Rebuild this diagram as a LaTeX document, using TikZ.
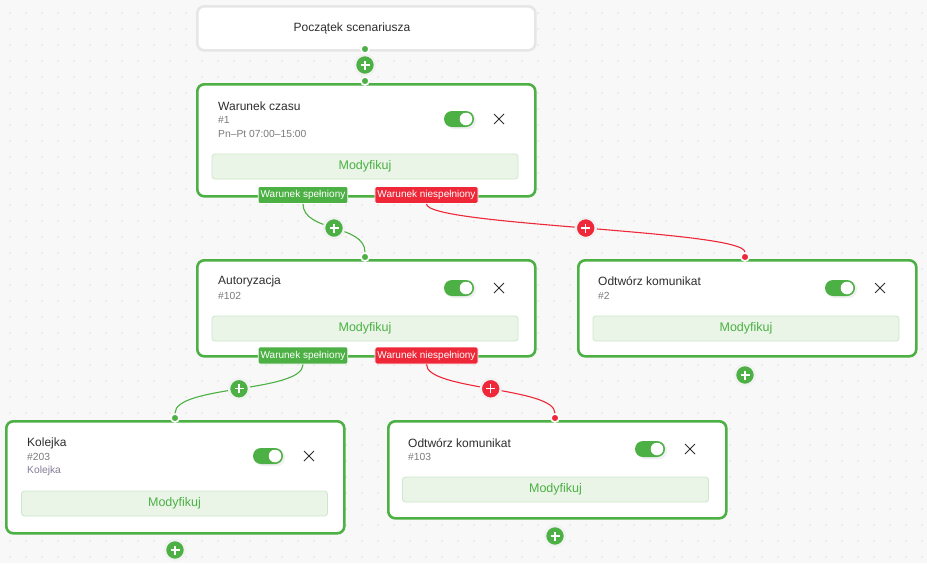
\documentclass[tikz,border=0pt]{standalone}
\usepackage{fontspec}
\setmainfont{Liberation Sans}
\usetikzlibrary{calc}
\definecolor{gr}{HTML}{4CB044}
\definecolor{rd}{HTML}{EE2838}
\definecolor{bgc}{HTML}{F8F8F8}
\definecolor{dotc}{HTML}{C4C4C4}
\definecolor{txt}{HTML}{2E2E2E}
\definecolor{sub}{HTML}{7A7A7A}
\definecolor{subp}{HTML}{857C98}
\definecolor{modf}{HTML}{EAF5E8}
\definecolor{modb}{HTML}{CDE7CA}
\definecolor{ring}{HTML}{E6E6E6}
\definecolor{pring}{HTML}{F2F2F2}
\tikzset{
  card/.style={draw=gr, line width=2.6pt, fill=white, rounded corners=7pt, inner sep=0pt, minimum width=338pt, anchor=north west},
  startbox/.style={draw=ring, line width=2.6pt, fill=white, rounded corners=7pt, inner sep=0pt, minimum width=338pt, minimum height=44pt, anchor=north west},
  title/.style={anchor=west, inner sep=0pt, text=txt, font=\fontsize{12}{14}\selectfont},
  subt/.style={anchor=west, inner sep=0pt, text=sub, font=\fontsize{10.3}{12}\selectfont},
  modbtn/.style={draw=modb, line width=0.8pt, fill=modf, rounded corners=3pt, minimum width=306pt, minimum height=25pt, inner sep=0pt, text=gr, font=\fontsize{12.5}{14}\selectfont},
  oklabel/.style={fill=gr, draw=white, line width=0.8pt, rounded corners=1.5pt, text=white, inner xsep=2.5pt, inner ysep=0pt, minimum height=17pt, font=\fontsize{10}{12}\selectfont},
  nolabel/.style={oklabel, fill=rd},
  plusbtn/.style={circle, fill=#1, draw=pring, line width=2.4pt, minimum size=20pt, inner sep=0pt,
    path picture={\draw[white, line width=1.3pt] ([xshift=-4.5pt]path picture bounding box.center) -- ([xshift=4.5pt]path picture bounding box.center);
                  \draw[white, line width=1.3pt] ([yshift=-4.5pt]path picture bounding box.center) -- ([yshift=4.5pt]path picture bounding box.center);}},
  plusbtn/.default=gr,
  port/.style={circle, fill=#1, draw=white, line width=1.6pt, minimum size=8pt, inner sep=0pt},
  port/.default=gr,
  conn/.style={line width=1.1pt}
}
\newcommand{\toggle}[2]{%
  \fill[black, opacity=0.06, rounded corners=8pt] (#1-13,#2-7) rectangle (#1+17,#2+10);
  \fill[gr, rounded corners=8pt] (#1-15,#2-8) rectangle (#1+15,#2+8);
  \fill[white] (#1+7,#2) circle (6.3pt);}
\newcommand{\closex}[2]{%
  \draw[txt, line width=1pt] (#1-5,#2-5) -- (#1+5,#2+5) (#1-5,#2+5) -- (#1+5,#2-5);}
\begin{document}
\begin{tikzpicture}[x=1pt,y=-1pt]
\useasboundingbox (0,0) rectangle (927,563);
\fill[bgc] (0,0) rectangle (927,563);
\foreach \i in {0,...,57} {\foreach \j in {0,...,34} {\fill[dotc] (10+16*\i,13+16*\j) circle (0.7pt);}}

% start box
\node[startbox] (start) at (196,5) {};
\node[title, anchor=center] (startt) at (352,28) {Początek scenariusza};

% card 1
\node[card, minimum height=112pt] (c1) at (196,83) {};
\node[title] (c1t) at (218,106) {Warunek czasu};
\node[subt] (c1n) at (218,120) {\#1};
\node[subt] (c1s) at (218,134) {Pn–Pt 07:00–15:00};
\toggle{459}{119}
\closex{499}{119}
\node[modbtn] (c1m) at (365,166.5) {Modyfikuj};

% card 2
\node[card, minimum height=96pt] (c2) at (196,259) {};
\node[title] (c2t) at (218,281) {Autoryzacja};
\node[subt] (c2n) at (218,296) {\#102};
\toggle{459}{288}
\closex{499}{288}
\node[modbtn] (c2m) at (365,328.5) {Modyfikuj};

% card 3
\node[card, minimum height=96pt] (c3) at (577,259) {};
\node[title] (c3t) at (598,281) {Odtwórz komunikat};
\node[subt] (c3n) at (598,296) {\#2};
\toggle{840}{288}
\closex{880}{288}
\node[modbtn] (c3m) at (746,328.5) {Modyfikuj};

% card 4
\node[card, minimum height=112pt] (c4) at (5,420) {};
\node[title] (c4t) at (27,443) {Kolejka};
\node[subt] (c4n) at (27,457) {\#203};
\node[subt, text=subp] (c4s) at (27,471) {Kolejka};
\toggle{268}{456}
\closex{309}{456}
\node[modbtn] (c4m) at (174.5,503.5) {Modyfikuj};

% card 5
\node[card, minimum height=97pt] (c5) at (387,420) {};
\node[title] (c5t) at (408,443) {Odtwórz komunikat};
\node[subt] (c5n) at (408,457) {\#103};
\toggle{650}{449}
\closex{690}{449}
\node[modbtn] (c5m) at (555.5,489.5) {Modyfikuj};

% labels
\node[oklabel] (l1a) at (303,195) {Warunek spełniony};
\node[nolabel] (l1b) at (426.5,195) {Warunek niespełniony};
\node[oklabel] (l2a) at (303,355.5) {Warunek spełniony};
\node[nolabel] (l2b) at (426.5,355.5) {Warunek niespełniony};

% ports
\node[port] (d0) at (365,49) {};
\node[plusbtn] (p0) at (365,65) {};
\node[port] (d1) at (365,81) {};
\node[port] (d2) at (365,257) {};
\node[port=rd] (d3) at (745,257) {};
\node[port] (d4) at (175,418) {};
\node[port=rd] (d5) at (555,418) {};

% connectors
\draw[conn, gr] (l1a.south) .. controls +(0,28) and +(0,-28) .. (d2.north) node[plusbtn, pos=0.5] (p1) {};
\draw[conn, rd] (l1b.south) .. controls +(0,22) and +(0,-22) .. (d3.north) node[plusbtn=rd, pos=0.5] (p2) {};
\draw[conn, gr] (l2a.south) .. controls +(0,28) and +(0,-28) .. (d4.north) node[plusbtn, pos=0.5] (p3) {};
\draw[conn, rd] (l2b.south) .. controls +(0,26) and +(0,-26) .. (d5.north) node[plusbtn=rd, pos=0.5] (p4) {};

% trailing plus buttons
\node[plusbtn] (p5) at (745,375) {};
\node[plusbtn] (p6) at (175,550) {};
\node[plusbtn] (p7) at (555,536) {};
\end{tikzpicture}
\end{document}
